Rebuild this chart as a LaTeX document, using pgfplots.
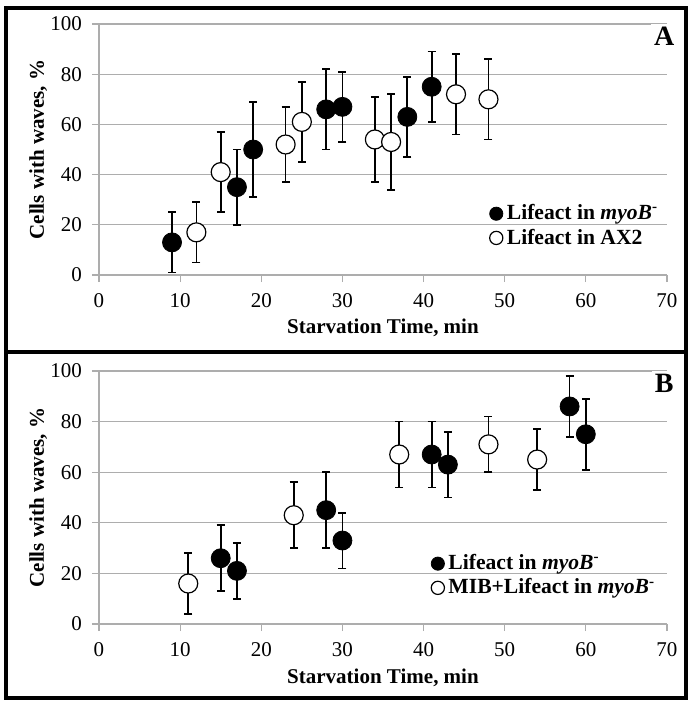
\documentclass[border=0pt]{standalone}
\usepackage{fontspec}
\setmainfont{Liberation Serif}
\usepackage{pgfplots}
\usepackage{pgfplotstable}
\pgfplotsset{compat=1.18}

% panel A
\pgfplotstableread{
x y e
9 13 12
17 35 15
19 50 19
28 66 16
30 67 14
38 63 16
41 75 14
}\myoBA
\pgfplotstableread{
x y e
12 17 12
15 41 16
23 52 15
25 61 16
34 54 17
36 53 19
44 72 16
48 70 16
}\axtwo
% panel B
\pgfplotstableread{
x y e
15 26 13
17 21 11
28 45 15
30 33 11
41 67 13
43 63 13
58 86 12
60 75 14
}\myoBB
\pgfplotstableread{
x y e
11 16 12
24 43 13
37 67 13
48 71 11
54 65 12
}\mib

\pgfplotsset{
  panel/.style={
    scale only axis, width=284pt,
    xmin=0, xmax=70, ymin=0, ymax=100,
    xtick={0,10,...,70}, ytick={0,20,...,100},
    axis x line*=bottom, axis y line*=left,
    axis line style={black!32, line width=0.6pt},
    tick align=outside, major tick length=3.5pt,
    tick style={black!32, line width=0.6pt},
    ymajorgrids, major grid style={black!32, line width=0.6pt},
    ticklabel style={font=\fontsize{10.5}{12}\selectfont},
    xticklabel style={yshift=-2pt},
    yticklabel style={xshift=-1.5pt},
    /pgf/number format/assume math mode=true,
    xlabel={Starvation Time, min},
    ylabel={Cells with waves, \%},
    label style={font=\bfseries\fontsize{10.5}{12}\selectfont},
    xlabel style={at={(axis description cs:0.5,-0.211)}, anchor=center},
    ylabel style={at={(axis description cs:-0.107,0.5)}, anchor=center},
    legend cell align=left,
    legend image code/.code={
      \draw[mark repeat=2, mark phase=2, #1, mark size=3.3pt]
        plot coordinates {(0pt,0pt) (3.4pt,0pt) (8.4pt,0pt)};},
    legend style={draw=none, fill=none, font=\bfseries\fontsize{10.8}{12}\selectfont,
      row sep=-1pt, anchor=north west, inner sep=0pt},
    clip=false,
  },
  full/.style={only marks, mark=*, mark size=4.75pt, black,
    mark options={fill=black, draw=black},
    error bars/.cd, y dir=both, y explicit,
    error bar style={black, line width=0.85pt},
    error mark options={black, line width=0.85pt, mark size=2pt, rotate=90}},
  empty/.style={only marks, mark=*, mark size=4.75pt, black,
    mark options={fill=white, draw=black, line width=0.6pt},
    error bars/.cd, y dir=both, y explicit,
    error bar style={black, line width=0.85pt},
    error mark options={black, line width=0.85pt, mark size=2pt, rotate=90}},
}

\begin{document}
\begin{tikzpicture}
\path (0,0) rectangle (347.5pt,-354.5pt);

\begin{axis}[panel, height=125.5pt, at={(49.5pt,-137.5pt)}, anchor=south west,
  legend style={at={(axis cs:48.1,29.8)}}]
\addplot[full] table[x=x, y=y, y error=e] {\myoBA};
\addlegendentry{Lifeact in \textit{myoB}\textsuperscript{-}}
\addplot[empty] table[x=x, y=y, y error=e] {\axtwo};
\addlegendentry{Lifeact in AX2}
\node[fill=white, inner sep=1.5pt, font=\bfseries\fontsize{14}{16}\selectfont]
  at (rel axis cs:0.995,0.952) {A};
\end{axis}

\begin{axis}[panel, height=126.5pt, at={(49.5pt,-312pt)}, anchor=south west,
  legend style={at={(axis cs:40.9,29.2)}}]
\addplot[full] table[x=x, y=y, y error=e] {\myoBB};
\addlegendentry{Lifeact in \textit{myoB}\textsuperscript{-}}
\addplot[empty] table[x=x, y=y, y error=e] {\mib};
\addlegendentry{MIB+Lifeact in \textit{myoB}\textsuperscript{-}}
\node[fill=white, inner sep=1.5pt, font=\bfseries\fontsize{14}{16}\selectfont]
  at (rel axis cs:0.995,0.953) {B};
\end{axis}

\draw[line width=2pt] (2.8pt,-3.8pt) rectangle (343pt,-349pt);
\draw[line width=2pt] (2.8pt,-176pt) -- (343pt,-176pt);
\end{tikzpicture}
\end{document}
